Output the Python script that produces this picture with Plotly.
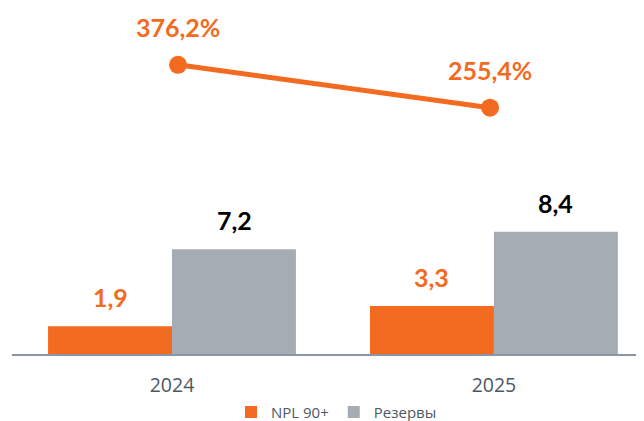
import plotly.graph_objects as go

years = ["2024", "2025"]
npl = [1.9, 3.3]
reserves = [7.2, 8.4]
coverage = [376.2, 255.4]
npl_labels = ["1,9", "3,3"]
res_labels = ["7,2", "8,4"]
cov_labels = ["376,2%", "255,4%"]

ORANGE = "#F36A21"
GREY = "#A6ACB4"
FONT = "Lato"
SANS = "Open Sans"

fig = go.Figure()
fig.add_trace(go.Bar(x=years, y=npl, name="NPL 90+", marker_color=ORANGE,
                     marker_line_width=0))
fig.add_trace(go.Bar(x=years, y=reserves, name="Резервы", marker_color=GREY,
                     marker_line_width=0))
fig.add_trace(go.Scatter(x=years, y=coverage, mode="lines+markers",
                         xaxis="x2", yaxis="y2", showlegend=False,
                         line=dict(color=ORANGE, width=5),
                         marker=dict(color=ORANGE, size=18)))

ann = []
for i, y in enumerate(years):
    ann.append(dict(x=i, y=npl[i], xref="x", yref="y", text=npl_labels[i],
                    showarrow=False, xshift=-62, yshift=29,
                    font=dict(family=FONT, size=25, color=ORANGE, weight="bold")))
    ann.append(dict(x=i, y=reserves[i], xref="x", yref="y", text=res_labels[i],
                    showarrow=False, xshift=62, yshift=29,
                    font=dict(family=FONT, size=25, color="#000000", weight="bold")))
    ann.append(dict(x=i, y=coverage[i], xref="x2", yref="y2", text=cov_labels[i],
                    showarrow=False, yshift=38,
                    font=dict(family=FONT, size=25, color=ORANGE, weight="bold")))

fig.update_layout(
    width=644, height=421,
    margin=dict(l=4, r=0, t=3, b=67),
    paper_bgcolor="white", plot_bgcolor="white",
    barmode="group", bargap=0.23, bargroupgap=0,
    font=dict(family=SANS, color="#4D5863"),
    xaxis=dict(type="category", range=[-0.497, 1.491], showline=True,
               linecolor="#8A96A3", linewidth=1.5, showgrid=False,
               tickfont=dict(family=SANS, size=19.5, color="#4D5863"), ticks="",
               ticklabelstandoff=13),
    xaxis2=dict(type="category", overlaying="x", range=[-0.532, 1.519],
                visible=False),
    yaxis=dict(range=[0, 23.56], visible=False, showgrid=False),
    yaxis2=dict(range=[-438.5, 527.8], overlaying="y", visible=False),
    legend=dict(orientation="h", x=0.507, xanchor="center", y=-0.17,
                yanchor="middle", font=dict(family=SANS, size=15, color="#4D5863"),
                itemwidth=30, traceorder="normal"),
    annotations=ann,
)

fig.write_html("out.html")
